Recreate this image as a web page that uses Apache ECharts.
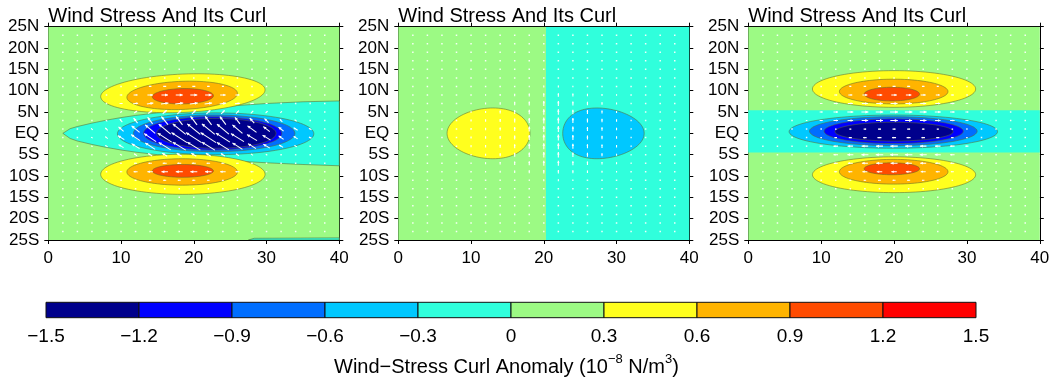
<!DOCTYPE html>
<html><head><meta charset="utf-8">
<script src="https://cdn.jsdelivr.net/npm/echarts@6/dist/echarts.min.js"></script>
<style>html,body{margin:0;padding:0;background:#fff}#c{width:1055px;height:385px}</style>
</head><body><div id="c"></div>
<script>
// ---------- colour levels ----------
const LEVELS = [-1.5,-1.2,-0.9,-0.6,-0.3,0,0.3,0.6,0.9,1.2,1.5];
const COLORS = ['#00008c','#0000ff','#006eff','#00c8ff','#30ffdc','#9cfa84','#ffff1e','#ffb400','#ff4b00','#ff0000'];
const LON_TICKS = [0,10,20,30,40];
const LAT_TICKS = [-25,-20,-15,-10,-5,0,5,10,15,20,25];
const PANEL_TITLE = 'Wind Stress And Its Curl';

// ---------- contour regions ----------
// rect: [lon0, lon1, lat0, lat1, level]
// ellipse: [cLon, cLat, rLon, rLat, shear, egg, level]
// polygon: {level, pts:[[lon,lat],...]}
const P1_RECTS = [[0,40,-25,25,5]];
const P1_POLYS = [
  {level:4, pts:[[2,0],[3,1.1],[4,1.6],[6,2.4],[8,3.1],[10,3.7],[12,4.2],[15,4.8],[20,5.7],[25,6.4],[30,7.0],[35,7.4],[40,7.6],
                 [40,-7.6],[35,-7.3],[30,-6.9],[25,-6.4],[20,-5.8],[15,-5.0],[12,-4.4],[10,-3.9],[8,-3.3],[6,-2.6],[4,-1.8],[3,-1.2]]},
  {level:4, pts:[[27.5,-25],[28.3,-24.6],[40,-24.5],[40,-25]]}
];
const P1_ELLIPSES = [
  [18.5, 9.4, 11.3, 4.5, 0.07, 0, 6],
  [18.4, 8.9, 7.6, 3.3, 0.06, 0, 7],
  [18.5, 8.7, 4.2, 1.8, 0.03, 0, 8],
  [18.5,-9.6, 11.3, 4.7, 0, 0, 6],
  [18.4,-9.05, 7.6, 3.1, 0, 0, 7],
  [18.5,-8.8, 4.2, 1.5, 0, 0, 8],
  [23.0,-0.1, 13.5, 4.9, 0, 0, 3],
  [22.8, 0.0, 11.1, 4.3, 0, 0, 2],
  [22.6, 0.0, 9.5, 3.9, 0, 0, 1],
  [23.1, 0.0, 8.2, 3.5, 0, 0, 0]
];
const P2_RECTS = [[0,20.3,-25,25,5],[20.3,40,-25,25,4]];
const P2_POLYS = [];
const P2_ELLIPSES = [
  [12.4, 0, 5.7, 5.95, 0, 0.6, 6],
  [28.2, 0, 5.6, 5.95, 0, -0.9, 3]
];
const P3_RECTS = [[0,40,-25,25,5],[0,40,-4.5,5.4,4]];
const P3_POLYS = [];
const P3_ELLIPSES = [
  [20.0, 10.4, 11.2, 4.3, 0, 0, 6],
  [19.95, 9.8, 7.45, 2.9, 0, 0, 7],
  [19.7, 9.2, 3.8, 1.6, 0, 0, 8],
  [20.0,-9.7, 11.2, 4.2, 0, 0, 6],
  [19.95,-9.0, 7.45, 2.9, 0, 0, 7],
  [19.7,-8.3, 3.8, 1.4, 0, 0, 8],
  [19.9, 0.4, 14.3, 3.9, 0, 0, 3],
  [19.9, 0.5, 11.5, 3.4, 0, 0, 2],
  [19.95,0.5, 9.55, 2.9, 0, 0, 1],
  [20.0, 0.4, 8.1, 2.2, 0, 0, 0]
];

// ---------- wind-stress vectors (grid + values) ----------
const VEC_LONS = [2,4,6,8,10,12,14,16,18,20,22,24,26,28,30,32,34,36,38];
const VEC_LATS = [23,21,19,17,15,13,11,9,7,5,3,1,-1,-3,-5,-7,-9,-11,-13,-15,-17,-19,-21,-23];
const VEC_ROWS = [11,9,7,5,3,1,-1,-3,-5,-7,-9,-11];
const P1_U = [
  [0,0,0,0,1,2,2.5,3,3,3,2.5,2,1.5,1,0,0,0,0,0],
  [0,0,0,1,2.5,4,5.5,6.5,7,7,6.5,5.5,4,3,1.5,1,0,0,0],
  [0,0,0,1,3,5,6.5,7.5,8,8,7.5,6.5,5,3.5,2,1,0,0,0],
  [0,0,0,1,2,3,4,4,4,4,4,3.5,3,2.5,2,1.5,1,0,0],
  [0,0,0,-1.5,-2.5,-4,-5,-6.5,-6.5,-6.5,-6.5,-6,-5,-4.5,-4,-2.5,-2,-1,0],
  [0,0,-1.5,-2.5,-5,-8,-10,-12,-13,-13,-13,-12,-10,-9,-6.5,-5,-4,-2.5,-1.5],
  [0,0,-1.5,-2.5,-6.5,-9,-12,-14,-15.5,-15.5,-15.5,-14,-13,-10,-8,-5,-4,-2.5,-1.5],
  [0,0,-1.5,-2.5,-5,-8,-10,-12,-13,-13,-13,-12,-10,-8,-6.5,-4,-2.5,-1.5,0],
  [0,0,0,-1,-2,-3,-4,-5,-5,-5,-5,-4,-3,-2,-1.5,-1,0,0,0],
  [0,0,0,-1,-2,-3,-3.5,-4,-4,-4,-3.5,-3,-2.5,-2,-1,-0.5,0,0,0],
  [0,0,0,-1,-2.5,-4,-5.5,-6.5,-7,-7,-6.5,-5.5,-4,-3,-1.5,-1,0,0,0],
  [0,0,0,0,-1,-2,-2.5,-3,-3,-3,-2.5,-2,-1.5,-1,0,0,0,0,0]
];
const P1_V = [
  [0,0,0,0,0,0,0,0,0,0,0,0,0,0,0,0,0,0,0],
  [0,0,0,0,0,0,0,0,0,0,0,0,0,0,0,0,0,0,0],
  [0,0,0,0,0,0.5,1,1,1,1,1,1,0.5,0.5,0,0,0,0,0],
  [0,0,0,0.5,1,2,3,3.5,4,4,4,3.5,3,2.5,2,1.5,1,0.5,0],
  [0,0,0.5,1.5,3,5,6.5,8,8.5,8.5,8.5,8,6.5,5,4,2.5,1.5,0.5,0],
  [0,0,1.5,2.5,4.5,6.5,8.5,10,10.5,10.5,10.5,10,8.5,6.5,5,4,2.5,1.5,0.5],
  [0,0,1,2,4,6,8,9,10,10,10,9,8,6,5,3.5,2.5,1,0.5],
  [0,0,0.5,1.5,3,5,6.5,7.5,8,8,8,7.5,6.5,5,4,2.5,1.5,0.5,0],
  [0,0,0,0.5,1,2,2.5,3,3,3,3,2.5,2,1.5,1,0.5,0,0,0],
  [0,0,0,0,0,0,0,0,0,0,0,0,0,0,0,0,0,0,0],
  [0,0,0,0,0,0,0,0,0,0,0,0,0,0,0,0,0,0,0],
  [0,0,0,0,0,0,0,0,0,0,0,0,0,0,0,0,0,0,0]
];
const P2_U = VEC_ROWS.map(() => [0,0,0,0,0,0,0,0,0,0,0,0,0,0,0,0,0,0,0]);
const P2_V = [
  [0,0,0,0,0.5,0.5,1,1,1.5,2,2,1.5,1,1,0.5,0.5,0,0,0],
  [0,0,0.5,0.5,1,1.5,2,2.5,3,3.5,3.5,3,2.5,2,1.5,1,0.5,0,0],
  [0,0,0.5,1,1.5,2,2.5,3.5,4,5,5,4,3.5,2.5,2,1.5,0.5,0,0],
  [0,0,0.5,1,1.5,2,3,4,4.5,5.5,5.5,4.5,4,3,2,1.5,1,0,0],
  [0,0,0.5,1,2,2.5,3,4,5,6,6,5,4,3.5,2.5,1.5,1,0,0],
  [0,0,0.5,1,2,2.5,3,4,5,6,6,5,4,3.5,2.5,1.5,1,0,0],
  [0,0,0.5,1,2,2.5,3,4,5,6,6,5,4,3.5,2.5,1.5,1,0,0],
  [0,0,0.5,1,2,2.5,3,4,5,6,6,5,4,3.5,2.5,1.5,1,0,0],
  [0,0,0.5,1,1.5,2,3,4,4.5,5.5,5.5,4.5,4,3,2,1.5,1,0,0],
  [0,0,0.5,1,1.5,2,2.5,3.5,4,5,5,4,3.5,2.5,2,1.5,0.5,0,0],
  [0,0,0.5,0.5,1,1.5,2,2.5,3,3.5,3.5,3,2.5,2,1.5,1,0.5,0,0],
  [0,0,0,0,0.5,0.5,1,1,1.5,2,2,1.5,1,1,0.5,0.5,0,0,0]
];
const P3_U = [
  [0,0,0,0,1,1.5,2,2.5,3,3,3,2.5,2,1.5,1,0,0,0,0],
  [0,0,0,1,2,3,4,5,5.5,5.5,5.5,5,4,3,2,1,0,0,0],
  [0,0,0,1,2.5,4,5,6,6.5,7,6.5,6,5,4,2.5,1,0,0,0],
  [0,0,0.5,1.5,3,4.5,6,7,7.5,8,7.5,7,6,4.5,3,1.5,0.5,0,0],
  [0,0,0.5,1.5,3,4.5,5.5,6.5,7,7.5,7,6.5,5.5,4.5,3,1.5,0.5,0,0],
  [0,0,0,0.5,1,1.5,2,2.5,3,3,3,2.5,2,1.5,1,0.5,0,0,0],
  [0,0,0,-0.5,-1.5,-2.5,-3,-3.5,-4,-4,-4,-3.5,-3,-2.5,-1.5,-0.5,0,0,0],
  [0,0,-0.5,-1.5,-3,-4.5,-5.5,-6.5,-7,-7.5,-7,-6.5,-5.5,-4.5,-3,-1.5,-0.5,0,0],
  [0,0,-0.5,-1.5,-3,-4.5,-6,-7,-7.5,-8,-7.5,-7,-6,-4.5,-3,-1.5,-0.5,0,0],
  [0,0,0,-1,-2.5,-4,-5,-6,-6.5,-7,-6.5,-6,-5,-4,-2.5,-1,0,0,0],
  [0,0,0,-1,-2,-3,-4,-5,-5.5,-5.5,-5.5,-5,-4,-3,-2,-1,0,0,0],
  [0,0,0,0,-1,-1.5,-2,-2.5,-3,-3,-3,-2.5,-2,-1.5,-1,0,0,0,0]
];
const P3_V = VEC_ROWS.map(() => [0,0,0,0,0,0,0,0,0,0,0,0,0,0,0,0,0,0,0]);

// ---------- colour bar text ----------
const CB_TITLE = 'Wind\u2212Stress Curl Anomaly (10';
const CB_EXP = '\u22128';
const CB_UNIT = ' N/m';
const CB_UNIT_EXP = '3';

// ---------- layout ----------
const FONT = 'Liberation Sans, Arial, Helvetica, sans-serif';
const GRIDS = [
  {left:48.3, top:26.7, width:291, height:213.3},
  {left:398.3, top:26.7, width:291, height:213.3},
  {left:748.3, top:26.7, width:291.5, height:213.3}
];
const CB_GRID = {left:46, top:302.3, width:930, height:15.4};
const VEC_PX = 1.0;

function ellipsePts(e) {
  const [cx, cy, rx, ry, sh, egg] = e; const pts = [];
  for (let k = 0; k < 96; k++) {
    const t = 2*Math.PI*k/96, c = Math.cos(t), s = Math.sin(t);
    pts.push([cx + rx*c + egg*s*s, cy + ry*s + sh*rx*c]);
  }
  return pts;
}
function buildShapes(rects, polys, ells) {
  const out = [];
  rects.forEach(r => out.push({level:r[4], pts:[[r[0],r[2]],[r[1],r[2]],[r[1],r[3]],[r[0],r[3]]], line:false}));
  polys.forEach(p => out.push({level:p.level, pts:p.pts, line:true}));
  ells.forEach(e => out.push({level:e[6], pts:ellipsePts(e), line:true}));
  return out;
}
function buildVecs(U, V) {
  const data = [];
  VEC_LATS.forEach(lat => {
    const r = VEC_ROWS.indexOf(lat);
    VEC_LONS.forEach((lon, j) => {
      data.push([lon, lat, r >= 0 ? U[r][j] : 0, r >= 0 ? V[r][j] : 0]);
    });
  });
  return data;
}
const PANELS = [
  {shapes: buildShapes(P1_RECTS, P1_POLYS, P1_ELLIPSES), vecs: buildVecs(P1_U, P1_V)},
  {shapes: buildShapes(P2_RECTS, P2_POLYS, P2_ELLIPSES), vecs: buildVecs(P2_U, P2_V)},
  {shapes: buildShapes(P3_RECTS, P3_POLYS, P3_ELLIPSES), vecs: buildVecs(P3_U, P3_V)}
];

const latFmt = v => v === 0 ? 'EQ' : (v > 0 ? v + 'N' : (-v) + 'S');
const xAxes = [], yAxes = [], grids = [], series = [], graphics = [];
GRIDS.forEach((g, i) => {
  grids.push(Object.assign({containLabel:false}, g));
  const common = {gridIndex:i, type:'value', min:0, max:40, interval:10, splitLine:{show:false},
    axisLine:{show:true, onZero:false, lineStyle:{color:'#000', width:1}},
    axisTick:{show:true, inside:false, length:4, lineStyle:{color:'#000'}}};
  xAxes.push(Object.assign({}, common, {position:'bottom', axisLabel:{show:true, color:'#000', fontSize:17, fontFamily:FONT, margin:10}}));
  xAxes.push(Object.assign({}, common, {position:'top', axisLabel:{show:false}}));
  const yc = {gridIndex:i, type:'value', min:-25, max:25, interval:5, splitLine:{show:false},
    axisLine:{show:true, onZero:false, lineStyle:{color:'#000', width:1}},
    axisTick:{show:true, inside:false, length:4, lineStyle:{color:'#000'}}};
  yAxes.push(Object.assign({}, yc, {position:'left', axisLabel:{show:true, color:'#000', fontSize:17, fontFamily:FONT, margin:9, formatter:latFmt}}));
  yAxes.push(Object.assign({}, yc, {position:'right', axisLabel:{show:false}}));
  const P = PANELS[i];
  series.push({
    type:'custom', xAxisIndex:2*i, yAxisIndex:2*i, clip:true, silent:true, z:1,
    data: P.shapes.map((s, k) => [k]),
    renderItem: (params, api) => {
      const s = P.shapes[params.dataIndex];
      return {type:'polygon', shape:{points:s.pts.map(p => api.coord(p))},
        style:{fill:COLORS[s.level], stroke: s.line ? 'rgba(95,105,45,0.55)' : null, lineWidth: s.line ? 1 : 0}};
    }
  });
  series.push({
    type:'custom', xAxisIndex:2*i, yAxisIndex:2*i, clip:true, silent:true, z:2,
    data: P.vecs,
    renderItem: (params, api) => {
      const c = api.coord([api.value(0), api.value(1)]);
      const dx = api.value(2)*VEC_PX, dy = -api.value(3)*VEC_PX;
      const len = Math.hypot(dx, dy);
      if (len < 1.2) return {type:'rect', shape:{x:c[0]-0.75, y:c[1]-0.75, width:1.5, height:1.5}, style:{fill:'rgba(255,255,255,0.9)'}};
      const x0 = c[0]-dx/2, y0 = c[1]-dy/2, x1 = c[0]+dx/2, y1 = c[1]+dy/2;
      const ux = dx/len, uy = dy/len, h = Math.min(3, len*0.45), w = h*0.5;
      return {type:'group', children:[
        {type:'line', shape:{x1:x0, y1:y0, x2:x1, y2:y1}, style:{stroke:'#fff', lineWidth:1.1}},
        {type:'polygon', shape:{points:[[x1,y1],[x1-h*ux+w*uy, y1-h*uy-w*ux],[x1-h*ux-w*uy, y1-h*uy+w*ux]]}, style:{fill:'#fff'}}
      ]};
    }
  });
  graphics.push({type:'text', x:g.left, y:6, style:{text:PANEL_TITLE, font:'20px ' + FONT, fill:'#000'}});
});
// colour bar
grids.push(Object.assign({containLabel:false}, CB_GRID));
xAxes.push({gridIndex:3, type:'value', min:-1.5, max:1.5, interval:0.3, splitLine:{show:false},
  axisLine:{show:false}, axisTick:{show:false},
  axisLabel:{show:true, color:'#000', fontSize:19, fontFamily:FONT, margin:10,
    formatter: v => Math.abs(v) < 1e-9 ? '0' : (v < 0 ? '\u2212' + (-v).toFixed(1) : v.toFixed(1))}});
yAxes.push({gridIndex:3, type:'value', min:0, max:1, show:false});
series.push({
  type:'custom', xAxisIndex:6, yAxisIndex:6, silent:true,
  data: COLORS.map((c, k) => [LEVELS[k], LEVELS[k+1], k]),
  renderItem: (params, api) => {
    const a = api.coord([api.value(0), 1]), b = api.coord([api.value(1), 0]);
    return {type:'rect', shape:{x:a[0], y:a[1], width:b[0]-a[0], height:b[1]-a[1]},
      style:{fill:COLORS[api.value(2)], stroke:'#111', lineWidth:1}};
  }
});
graphics.push({type:'text', x:334, y:353, style:{
  text:'{m|' + CB_TITLE + '}{s|' + CB_EXP + '}{m|' + CB_UNIT + '}{s|' + CB_UNIT_EXP + '}{m|)}',
  rich:{m:{font:'20px ' + FONT, fill:'#000', verticalAlign:'bottom', lineHeight:24}, s:{font:'13px ' + FONT, fill:'#000', verticalAlign:'top', lineHeight:24}}
}});

const chart = echarts.init(document.getElementById('c'), null, {renderer:'canvas'});
chart.setOption({animation:false, backgroundColor:'#fff', grid:grids, xAxis:xAxes, yAxis:yAxes, series:series, graphic:graphics});
</script></body></html>
